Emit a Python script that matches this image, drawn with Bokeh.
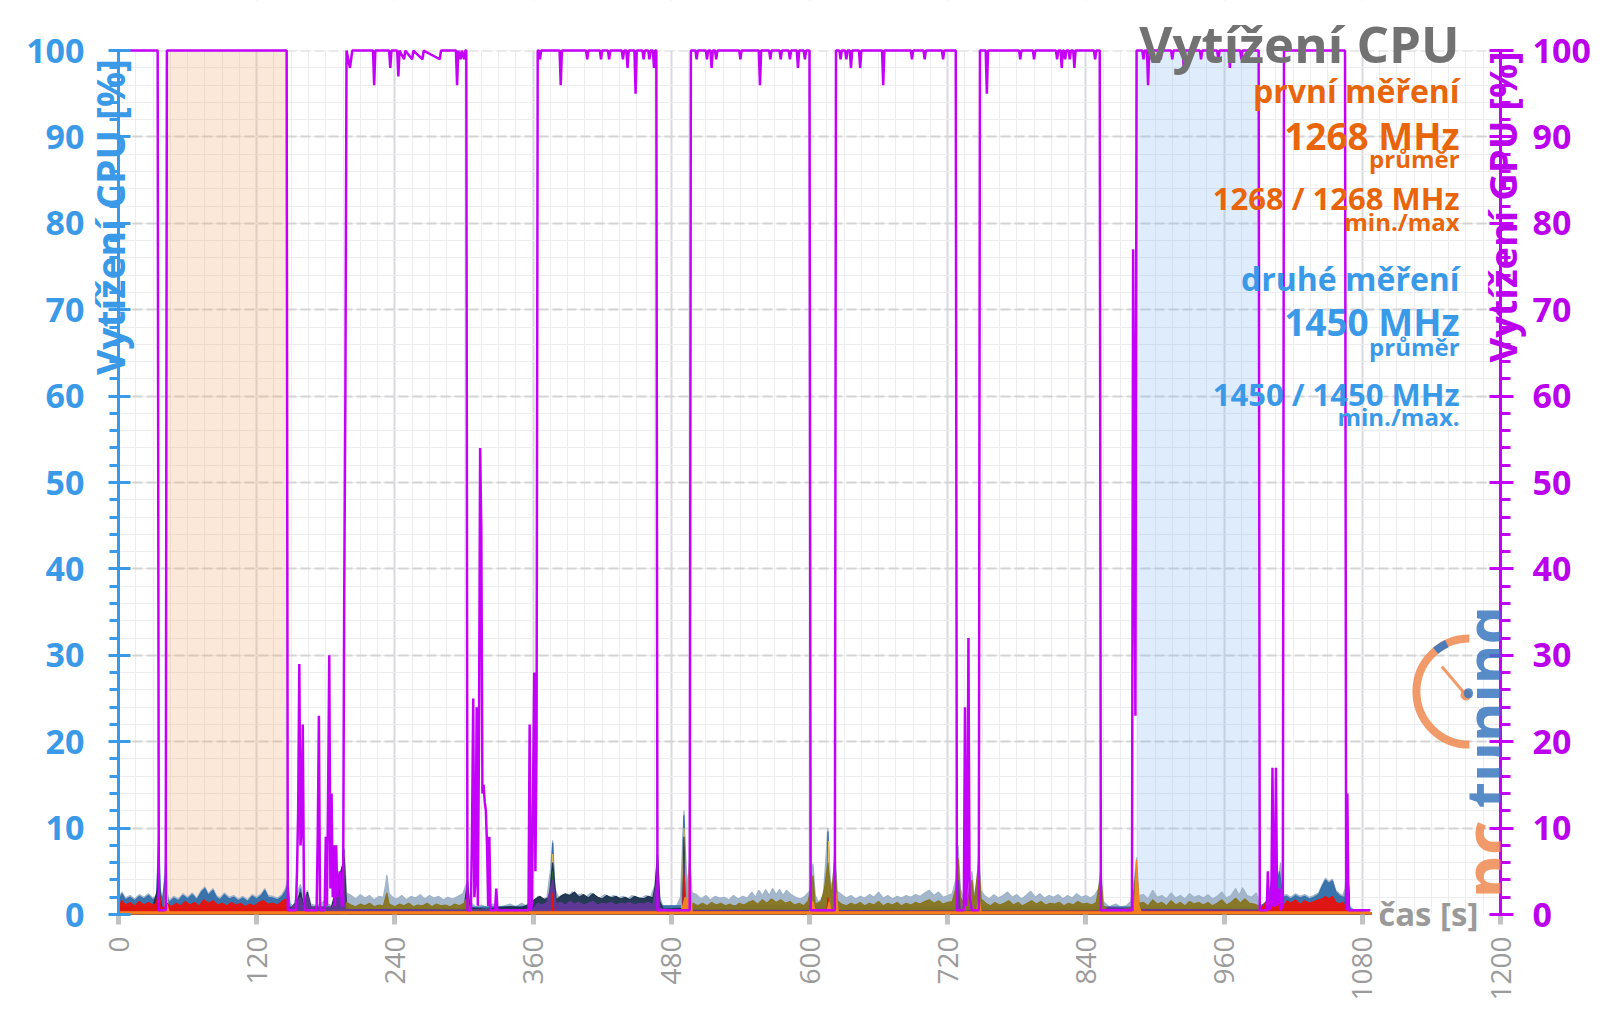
import math
from bokeh.plotting import figure
from bokeh.models import Range1d, LinearAxis, FixedTicker, SingleIntervalTicker, Label
from bokeh.embed import file_html
from bokeh.resources import INLINE

# ---------------- data ----------------
x_ticks = [0, 120, 240, 360, 480, 600, 720, 840, 960, 1080, 1200]
x_minor = list(range(0, 1201, 15))

band_start = [42, 884]
band_end = [147, 990]
band_colors = ["#f5a86a", "#7fb6ee"]

gpu_time = [
    0, 34, 35, 41, 42, 146, 147,
    154, 155, 156, 157, 158, 159, 160, 161, 162, 172, 173, 174, 175,
    179, 180, 181, 182, 183, 184, 185, 186, 187, 188, 189, 190, 192, 194, 195, 196, 197, 198,
    201, 203, 221, 222, 223, 235, 236, 237, 242, 243, 244, 248, 249, 255, 256, 264, 265,
    279, 280, 293, 294, 295, 297, 298, 300, 301, 302, 303,
    306, 307, 308, 309, 310, 311, 312, 313, 314, 315, 316, 317, 318, 319, 320, 321, 322, 323,
    327, 328, 329, 356, 357, 358, 359, 360, 361, 362, 363, 364,
    365, 366, 367, 383, 384, 385, 406, 407, 408, 418, 419, 420, 425, 426, 427, 437, 438, 439,
    441, 442, 443, 448, 449, 450, 455, 456, 457, 460, 461, 462, 464, 465, 466, 467, 468, 496, 497,
    501, 502, 503, 510, 511, 512, 514, 515, 516, 518, 519, 520, 539, 540, 541, 556, 557, 558,
    565, 566, 567, 574, 575, 576, 582, 583, 584, 589, 590, 591, 595, 596, 597, 600, 601, 622, 623,
    626, 627, 628, 631, 632, 633, 635, 636, 637, 643, 644, 645, 663, 664, 665, 688, 689, 690,
    699, 700, 701, 715, 716, 717, 727, 728, 734, 735, 736, 737, 738, 739, 741, 747, 748,
    753, 754, 755, 782, 783, 784, 794, 795, 796, 814, 815, 816, 818, 819, 820, 821, 822, 823,
    825, 826, 827, 829, 830, 831, 847, 848, 849, 852, 853, 880, 881, 883, 884,
    889, 890, 891, 893, 894, 895, 904, 905, 906, 914, 915, 916, 924, 925, 926, 939, 940, 941,
    954, 955, 956, 964, 965, 966, 974, 975, 976, 990, 991, 997, 998, 999, 1001, 1002, 1003,
    1004, 1005, 1006, 1008, 1009, 1011, 1012, 1065, 1066, 1067, 1068, 1087,
]
gpu_load = [
    100, 100, 0.5, 0.5, 100, 100, 0.5,
    0.5, 5, 12, 29, 8, 10, 22, 3, 0.5, 0.5, 9, 23, 0.5,
    0.5, 9, 1, 14, 30, 3, 14, 2, 8, 1, 8, 2, 5, 1, 1, 37, 60, 100,
    98, 100, 100, 96, 100, 100, 98, 100, 100, 97, 100, 99, 100, 99, 100, 99, 100,
    99, 100, 100, 96, 100, 99, 100, 99, 100, 100, 0.5,
    0.5, 10, 25, 2, 4, 24, 1, 20, 54, 45, 14, 15, 13, 12, 8, 1, 9, 0.5,
    0.5, 3, 0.5, 0.5, 22, 0.5, 1, 15, 28, 5, 20, 100,
    100, 99, 100, 100, 96, 100, 100, 99, 100, 100, 99, 100, 100, 99, 100, 100, 99, 100,
    100, 98, 100, 100, 95, 100, 100, 99, 100, 100, 99, 100, 100, 98, 100, 100, 0.5, 0.5, 100,
    100, 99, 100, 100, 99, 100, 100, 98, 100, 100, 99, 100, 100, 99, 100, 100, 96, 100,
    100, 99, 100, 100, 99, 100, 100, 99, 100, 100, 98, 100, 100, 99, 100, 100, 0.5, 0.5, 100,
    100, 99, 100, 100, 99, 100, 100, 98, 100, 100, 98, 100, 100, 96, 100, 100, 99, 100,
    100, 99, 100, 100, 99, 100, 100, 0.5, 0.5, 24, 1, 5, 32, 2, 0.5, 0.5, 100,
    100, 95, 100, 100, 99, 100, 100, 99, 100, 100, 99, 100, 100, 98, 100, 100, 99, 100,
    100, 99, 100, 100, 98, 100, 100, 99, 100, 100, 0.5, 0.5, 77, 23, 100,
    100, 99, 100, 100, 96, 100, 100, 99, 100, 100, 99, 100, 100, 98, 100, 100, 99, 100,
    100, 99, 100, 100, 98, 100, 100, 99, 100, 100, 0.5, 0.5, 5, 0.5, 1, 17, 1,
    1, 17, 1, 3, 0.5, 1, 100, 100, 0.5, 14, 0.5, 0.5,
]

# CPU thread loads (time in s, load in %)
light_t = [0, 3, 6, 10, 14, 18, 22, 26, 30, 33, 34, 35, 36, 37, 39, 41, 42, 44,
           48, 52, 56, 60, 64, 68, 72, 75, 78, 82, 85, 88, 92, 96, 100, 104, 108, 112, 116, 120,
           124, 127, 130, 134, 138, 142, 145, 147, 149,
           152, 155, 158, 161, 164, 167, 172, 178, 185, 190, 194, 196, 198,
           202, 206, 210, 214, 218, 222, 226, 230, 232, 233, 235, 238, 242, 246, 250, 254, 258,
           262, 266, 270, 274, 278, 282, 286, 290, 295, 299, 302, 303, 305,
           310, 315, 320, 325, 330, 335, 340, 345, 350, 354, 357, 360, 364, 368, 372, 375, 377, 379, 382,
           386, 390, 394, 398, 402, 406, 410, 414, 418, 422, 426, 430, 434, 438, 442, 446, 450, 454,
           458, 462, 466, 468, 470, 473,
           476, 480, 484, 488, 490, 491, 492, 494, 496, 498,
           502, 506, 510, 514, 518, 522, 526, 530, 534, 538, 542, 546, 550, 553, 556, 559, 562, 565,
           568, 571, 574, 577, 580, 584, 588, 592, 596, 600, 603, 605, 608, 612, 614, 616, 618, 620, 622, 624,
           628, 632, 636, 640, 644, 648, 652, 656, 660, 664, 668, 672, 676, 680, 684, 688, 692, 696,
           700, 704, 708, 712, 716, 720, 724, 727, 729, 731, 734, 738, 741, 743, 745, 747, 749,
           752, 756, 760, 764, 768, 772, 776, 780, 784, 788, 792, 796, 800, 804, 808, 812, 816, 820,
           824, 828, 832, 836, 840, 844, 848, 851, 853, 855,
           860, 866, 870, 875, 879, 882, 884, 886,
           890, 894, 898, 902, 906, 910, 914, 918, 922, 926, 930, 934, 938, 942, 946, 950, 954, 958,
           962, 966, 970, 973, 976, 980, 984, 988, 990,
           994, 998, 1001, 1003, 1005, 1007, 1009, 1011,
           1014, 1018, 1022, 1026, 1030, 1034, 1038, 1042, 1045, 1048, 1051, 1054, 1057, 1060, 1063,
           1065, 1067, 1069, 1072, 1078, 1084, 1088]
light_v = [1.8, 2.6, 1.9, 2.2, 1.8, 2.3, 2.0, 2.4, 1.9, 2.2, 6, 10.3, 4, 1.7, 2.2, 6.8, 2.7, 1.6,
           2.1, 1.8, 2.4, 2.0, 2.5, 1.9, 2.8, 3.2, 2.4, 3.0, 2.2, 1.9, 2.5, 2.0, 2.2, 1.8, 2.1, 1.7, 2.3, 2.0,
           2.4, 3.0, 2.2, 2.1, 1.9, 2.3, 3.0, 4.3, 1.2,
           1.0, 2.5, 3.5, 1.5, 2.8, 1.2, 1.0, 1.5, 1.0, 1.5, 4, 7.6, 2.5,
           2.2, 1.8, 2.3, 1.9, 2.2, 1.7, 2.1, 2.0, 3.5, 4.6, 2.4, 2.0, 1.8, 2.2, 1.7, 2.1, 1.9,
           2.3, 1.8, 2.2, 1.9, 2.1, 1.7, 2.0, 1.8, 2.1, 2.4, 3.5, 4.0, 1.5,
           0.9, 1.1, 0.8, 1.2, 0.9, 1.0, 1.2, 0.9, 1.3, 1.0, 1.5, 1.1, 2.1, 1.8, 2.0, 5, 8.6, 3, 2.0,
           2.3, 2.1, 2.6, 2.2, 2.4, 2.0, 2.5, 2.1, 1.9, 2.3, 2.0, 2.2, 1.9, 2.1, 1.8, 2.2, 2.0, 1.9,
           2.2, 2.0, 3.5, 7.2, 2.0, 0.9,
           0.8, 1.0, 0.8, 2, 9, 12, 8, 3, 6.6, 2.5,
           2.3, 1.8, 2.2, 1.7, 2.1, 1.9, 2.0, 1.7, 2.2, 1.8, 2.1, 1.9, 2.6, 2.0, 2.8, 2.2, 2.9, 2.2,
           3.0, 2.3, 2.9, 2.2, 2.8, 2.3, 2.0, 1.8, 2.1, 2.7, 5.9, 2.2, 1.4, 2.2, 6, 10, 4, 3, 7.6, 2.7,
           2.3, 1.9, 2.2, 1.8, 2.1, 1.9, 2.3, 2.0, 2.6, 1.9, 2.2, 1.8, 2.1, 1.9, 2.2, 2.0, 2.3, 2.1,
           2.5, 2.8, 2.2, 2.6, 2.0, 2.2, 2.4, 4, 8, 3, 1.7, 2.7, 5, 2.2, 3, 7.4, 2.7,
           2.2, 1.8, 2.3, 1.9, 2.2, 2.6, 2.0, 2.3, 1.8, 2.2, 2.7, 2.0, 2.4, 1.9, 2.2, 2.0, 2.3, 1.8,
           2.2, 1.9, 2.4, 2.0, 2.2, 1.9, 2.3, 3, 5.4, 1.5,
           0.9, 1.2, 0.9, 1.0, 1.5, 4, 6.6, 2.2,
           2.3, 1.8, 2.8, 2.0, 2.2, 1.8, 2.5, 1.9, 2.2, 1.8, 2.4, 2.0, 2.2, 1.9, 2.3, 1.8, 2.1, 2.6,
           1.9, 2.2, 3.0, 2.2, 3.1, 2.2, 2.0, 2.5, 1.4,
           1.0, 1.8, 4, 7.6, 3, 4, 6, 2.2,
           2.3, 2.0, 2.4, 2.1, 2.3, 2.0, 2.2, 2.5, 3.4, 4.2, 3.8, 4.1, 2.8, 2.4, 2.2,
           3, 7, 1.0, 0.6, 0.5, 0.3, 0.2]

blue_t = [0, 3, 6, 10, 14, 18, 22, 26, 30, 33, 34, 35, 36, 38, 41, 42, 44, 48, 52, 56, 60, 64, 68,
          72, 75, 78, 82, 85, 88, 92, 96, 100, 104, 108, 112, 116, 120, 124, 127, 130, 134, 138,
          142, 145, 147, 149, 156, 158, 160, 200, 375, 377, 379, 489, 491, 493, 615, 616, 618,
          990, 994, 998, 1001, 1003, 1005, 1008, 1011, 1014, 1018, 1022, 1026, 1030, 1034, 1038,
          1042, 1045, 1048, 1051, 1054, 1057, 1060, 1063, 1065, 1067, 1069, 1072, 1088]
blue_v = [1.5, 2.4, 1.7, 2.0, 1.6, 2.1, 1.8, 2.2, 1.7, 2.0, 5, 9.5, 3, 1.5, 5, 2.2, 1.4, 1.9, 1.6, 2.2, 1.8, 2.3, 1.7,
          2.6, 3.0, 2.2, 2.8, 2.0, 1.7, 2.3, 1.8, 2.0, 1.6, 1.9, 1.5, 2.1, 1.8, 2.2, 2.8, 2.0, 1.9, 1.7,
          2.1, 2.7, 3.5, 0.8, 1.0, 3.0, 0.8, 0.6, 1, 8.3, 1, 1, 11.5, 1, 1, 9.6, 1,
          0.8, 1.2, 1.6, 3.5, 7.2, 2.5, 5, 2.0, 2.1, 1.8, 2.2, 1.9, 2.1, 1.8, 2.0,
          2.3, 3.2, 4.0, 3.6, 3.9, 2.6, 2.2, 2.0, 2, 6, 0.8, 0.4, 0.2]

khaki_t = [0, 40, 41.7, 43, 375, 377, 379, 489, 491, 493, 615, 616.7, 618, 1002, 1003, 1004, 1088]
khaki_v = [0, 0, 6.5, 0, 0, 7, 0, 0, 10, 0, 0, 8.5, 0, 0, 6, 0, 0]

navy_t = [0, 30, 34, 35, 36, 38, 147, 150, 155, 158, 161, 164, 167, 175, 185, 196, 198, 200,
          300, 303, 305, 310, 320, 330, 340, 350, 357, 362, 366, 370, 374, 377, 380, 384, 388,
          392, 396, 400, 404, 408, 412, 416, 420, 424, 428, 432, 436, 440, 444, 448, 452, 456,
          460, 464, 466, 468, 470, 473, 490, 491, 492, 500, 850, 1065, 1067, 1069, 1088]
navy_v = [0.8, 0.9, 3, 8, 2, 0.6, 0.8, 0.8, 1.5, 2.6, 1.0, 2.6, 0.9, 0.8, 0.9, 6.5, 1.0, 0.6,
          0.6, 3.8, 0.8, 0.7, 0.6, 0.8, 0.9, 0.8, 1.2, 1.8, 2.1, 1.7, 2.0, 6, 1.7, 2.1, 2.4,
          2.2, 2.6, 2.0, 2.3, 1.9, 2.4, 2.0, 1.8, 2.2, 1.9, 2.1, 1.8, 2.0, 1.7, 2.1, 1.9, 1.8,
          2.1, 1.9, 3.3, 7.0, 1.5, 0.6, 0.7, 9, 0.7, 0.6, 0.6, 0.6, 6.5, 0.3, 0.2]

green_t = [0, 194, 195.6, 197, 200, 376, 377, 378, 490, 491, 492, 1088]
green_v = [0, 0, 7.5, 0.8, 0, 0, 5, 0, 0, 7, 0, 0]

olive_t = [0, 150, 196, 198, 202, 206, 210, 214, 218, 222, 226, 230, 233, 235, 240, 244, 248,
           252, 256, 260, 264, 268, 272, 276, 280, 284, 288, 292, 296, 300, 303, 305, 360, 497,
           499, 503, 507, 511, 515, 519, 523, 527, 531, 535, 539, 543, 547, 551, 555, 559, 563,
           567, 571, 575, 579, 583, 587, 591, 595, 599, 603, 605, 610, 613, 616, 619, 622, 624,
           628, 632, 636, 640, 644, 648, 652, 656, 660, 664, 668, 672, 676, 680, 684, 688, 692,
           696, 700, 704, 708, 712, 716, 720, 724, 727, 729, 731, 735, 738, 741, 743, 747, 749,
           753, 757, 761, 765, 769, 773, 777, 781, 785, 789, 793, 797, 801, 805, 809, 813, 817,
           821, 825, 829, 833, 837, 841, 845, 849, 853, 855, 860, 870, 880, 884, 886, 890, 894,
           898, 902, 906, 910, 914, 918, 922, 926, 930, 934, 938, 942, 946, 950, 954, 958, 962,
           966, 970, 974, 978, 982, 986, 990, 994, 1088]
olive_v = [0.4, 0.4, 0.6, 1.4, 1.1, 0.9, 1.2, 1.0, 1.3, 0.9, 1.1, 1.0, 2.5, 1.2, 0.9, 1.2, 1.0,
           1.3, 0.9, 1.1, 1.0, 1.3, 0.9, 1.2, 1.0, 1.1, 0.9, 1.2, 1.0, 1.3, 2, 0.5, 0.5, 0.6,
           1.3, 1.0, 1.3, 1.0, 1.4, 1.1, 1.3, 1.0, 1.2, 0.9, 1.3, 1.1, 1.4, 1.6, 1.2, 1.7, 1.3,
           1.8, 1.4, 1.7, 1.3, 1.5, 1.1, 1.3, 1.0, 1.6, 4.5, 1.2, 1.5, 3, 6, 2, 6.5, 1.6,
           1.2, 1.0, 1.3, 1.1, 1.4, 1.0, 1.3, 1.1, 1.5, 1.0, 1.3, 1.1, 1.4, 1.0, 1.3, 1.1, 1.4,
           1.2, 1.5, 1.7, 1.3, 1.6, 1.2, 1.4, 1.5, 3, 6.5, 2, 1.0, 2, 4, 1.5, 6, 1.8,
           1.3, 1.0, 1.4, 1.1, 1.3, 1.6, 1.1, 1.4, 1.0, 1.3, 1.6, 1.2, 1.5, 1.1, 1.3, 1.2, 1.4,
           1.0, 1.3, 1.1, 1.5, 1.2, 1.3, 1.1, 1.4, 4.5, 1.0, 0.6, 0.6, 0.8, 5.5, 1.3, 1.4, 1.0,
           1.7, 1.2, 1.4, 1.0, 1.6, 1.1, 1.4, 1.0, 1.5, 1.2, 1.4, 1.1, 1.4, 1.0, 1.3, 1.7, 1.1,
           1.4, 1.9, 1.3, 1.8, 1.3, 1.2, 1.0, 0.5, 0.2]

purple_t = [0, 146, 150, 155, 158, 161, 164, 167, 175, 185, 195, 197, 300, 360, 364, 368, 372,
            377, 380, 384, 388, 392, 396, 400, 404, 408, 412, 416, 420, 424, 428, 432, 436, 440,
            444, 448, 452, 456, 460, 464, 468, 470, 475, 490, 491, 492, 728, 729, 731, 853, 855,
            860, 870, 880, 1000, 1003, 1005, 1066, 1067, 1069, 1088]
purple_v = [0.5, 0.5, 0.7, 1.5, 2.0, 0.8, 2.3, 0.8, 0.9, 0.8, 3, 0.6, 0.5, 0.6, 1.3, 1.1, 1.4,
            4, 1.2, 1.4, 1.1, 1.5, 1.2, 1.4, 1.1, 1.3, 1.5, 1.1, 1.3, 1.2, 1.4, 1.1, 1.3, 1.2,
            1.4, 1.1, 1.3, 1.2, 1.4, 1.1, 4.5, 0.8, 0.5, 0.6, 6, 0.5, 0.4, 4, 0.4, 0.4, 0.4,
            0.8, 0.7, 0.6, 0.5, 4.5, 0.5, 0.4, 5, 0.2, 0.2]

red_t = [0, 3, 6, 10, 14, 18, 22, 26, 30, 33, 35, 37, 40, 42, 46, 50, 54, 58, 62, 66, 70, 74,
         78, 82, 86, 90, 94, 98, 102, 106, 110, 114, 118, 122, 126, 130, 134, 138, 142, 145,
         147, 149, 376, 377, 378, 490, 491, 492, 615, 616, 617, 990, 994, 998, 1001, 1003,
         1005, 1008, 1012, 1015, 1018, 1022, 1026, 1030, 1034, 1038, 1042, 1045, 1048, 1051,
         1054, 1057, 1060, 1063, 1065, 1068, 1088]
red_v = [1.0, 1.6, 1.1, 1.4, 1.0, 1.5, 1.1, 1.4, 1.1, 1.3, 3, 0.9, 0.8, 1.3, 0.9, 1.3, 1.0, 1.5,
         1.1, 1.4, 1.0, 1.7, 1.3, 1.6, 1.1, 1.3, 1.0, 1.4, 1.1, 1.3, 0.9, 1.2, 1.0, 1.4, 1.6,
         1.2, 1.3, 1.1, 1.5, 1.8, 1.5, 0.3, 0.3, 2.5, 0.3, 0.3, 4.5, 0.3, 0.3, 2, 0.3, 0.4,
         1.0, 1.7, 1.4, 2.5, 1.1, 1.4, 1.1, 1.6, 1.3, 1.7, 1.2, 1.6, 1.3, 1.5, 1.7, 1.8, 2.1,
         1.8, 2.1, 1.4, 1.2, 1.4, 1.0, 0.3, 0.2]

orange_t = [0, 40, 42, 44, 488, 490, 492, 494, 496, 498, 600, 603, 605, 615, 617, 619, 621,
            623, 625, 745, 747, 749, 882, 883, 884, 886, 888, 1085, 1088]
orange_v = [0.3, 0.3, 1.2, 0.3, 0.3, 1, 2, 1.5, 6.3, 0.3, 0.3, 1.5, 0.3, 0.3, 1.5, 0.3, 0.3,
            2.5, 0.3, 0.3, 2, 0.3, 0.3, 3, 6.3, 1, 0.3, 0.3, 0.2]

cpu_series = [
    (light_t, light_v, "#9fb3c8"),
    (blue_t, blue_v, "#3570aa"),
    (khaki_t, khaki_v, "#dcbd5c"),
    (navy_t, navy_v, "#1d334e"),
    (green_t, green_v, "#2e5b2e"),
    (olive_t, olive_v, "#877520"),
    (purple_t, purple_v, "#63389a"),
    (red_t, red_v, "#e8120c"),
    (orange_t, orange_v, "#f5841f"),
]

# ---------------- style ----------------
CPU_BLUE = "#3a9ae8"
GPU_MAG = "#c400f8"
GPU_LABEL = "#bb00ee"
ORANGE_TXT = "#e8650c"
GREY_TITLE = "#727272"
FONT = "Open Sans"
Y_TOP = 105.8   # frame reaches the top of the page so the title block is not clipped
EM = "\u2003"
EN = "\u2002"
THREE_PER_EM = "\u2004"

p = figure(width=1600, height=1009, x_range=Range1d(0, 1200), y_range=Range1d(0, Y_TOP),
           output_backend="svg", toolbar_location=None,
           min_border_left=118, min_border_right=100, min_border_top=0, min_border_bottom=95,
           background_fill_color="white", border_fill_color="white")
p.outline_line_color = None
p.extra_y_ranges = {"gpu": Range1d(0, Y_TOP)}

xt = FixedTicker(ticks=x_ticks, minor_ticks=x_minor)
xa = p.xaxis[0]
xa.ticker = xt
xa.bounds = (0, 1200)
xa.major_label_orientation = math.pi / 2
xa.axis_line_color = None
xa.major_tick_line_color = "#c2c2c2"
xa.major_tick_line_width = 5
xa.major_tick_in = 0
xa.major_tick_out = 10
xa.minor_tick_line_color = None
xa.major_label_text_font = FONT
xa.major_label_text_font_size = "28px"
xa.major_label_text_color = "#9b9b9b"
xa.major_label_standoff = 12
xa.axis_label = EM * 37 + EN + "čas [s]"
xa.axis_label_text_font = FONT
xa.axis_label_text_font_style = "bold"
xa.axis_label_text_font_size = "33px"
xa.axis_label_text_color = "#9a9a9a"
xa.axis_label_standoff = -113

yt = SingleIntervalTicker(interval=10, num_minor_ticks=5)
ya = p.yaxis[0]
ya.ticker = yt
ya.bounds = (0, 100)
ya.axis_line_color = CPU_BLUE
ya.axis_line_width = 3
ya.major_tick_line_color = CPU_BLUE
ya.major_tick_line_width = 3
ya.major_tick_in = 12
ya.major_tick_out = 10
ya.minor_tick_line_color = CPU_BLUE
ya.minor_tick_line_width = 3
ya.minor_tick_in = 0
ya.minor_tick_out = 9
ya.major_label_text_font = FONT
ya.major_label_text_font_style = "bold"
ya.major_label_text_font_size = "34px"
ya.major_label_text_color = CPU_BLUE
ya.major_label_standoff = 24
ya.axis_label = EM * 12 + THREE_PER_EM + "Vytížení CPU [%]"
ya.axis_label_text_font = FONT
ya.axis_label_text_font_style = "bold"
ya.axis_label_text_font_size = "39px"
ya.axis_label_text_color = CPU_BLUE
ya.axis_label_standoff = -113

ra = LinearAxis(y_range_name="gpu", ticker=SingleIntervalTicker(interval=10, num_minor_ticks=5))
ra.bounds = (0, 100)
ra.axis_line_color = GPU_MAG
ra.axis_line_width = 3
ra.major_tick_line_color = GPU_MAG
ra.major_tick_line_width = 3
ra.major_tick_in = 11
ra.major_tick_out = 13
ra.minor_tick_line_color = GPU_MAG
ra.minor_tick_line_width = 3
ra.minor_tick_in = 0
ra.minor_tick_out = 10
ra.major_label_text_font = FONT
ra.major_label_text_font_style = "bold"
ra.major_label_text_font_size = "34px"
ra.major_label_text_color = GPU_LABEL
ra.major_label_standoff = 19
ra.axis_label = EM * 2 + EN + "Vytížení GPU [%]"
ra.axis_label_text_font = FONT
ra.axis_label_text_font_style = "bold"
ra.axis_label_text_font_size = "38px"
ra.axis_label_text_color = GPU_LABEL
ra.axis_label_orientation = math.pi / 2
ra.axis_label_standoff = -92
p.add_layout(ra, "right")

p.xgrid.ticker = xt
p.xgrid.grid_line_color = "#d9d9e0"
p.xgrid.grid_line_width = 2
p.xgrid.minor_grid_line_color = "#ededf0"
p.xgrid.minor_grid_line_width = 1
p.ygrid.bounds = (0, 100)
p.ygrid.grid_line_color = "#d4d4d4"
p.ygrid.grid_line_width = 2
p.ygrid.grid_line_dash = "10 4"
p.ygrid.minor_grid_line_color = "#ededf0"
p.ygrid.minor_grid_line_width = 1

# blank strip above 100 % (only the title lives there)
p.quad(left=[0], right=[1200], bottom=[100], top=[Y_TOP], fill_color="white", line_color=None)

# shaded test bands
p.quad(left=band_start, right=band_end, bottom=0, top=100, fill_color=band_colors,
       fill_alpha=0.26, line_color=None)

# CPU thread areas
for t, v, c in cpu_series:
    p.varea(x=t, y1=0, y2=v, fill_color=c, fill_alpha=0.95)
    p.line(t, v, line_color=c, line_width=1.2)

# GPU load
p.line(gpu_time, gpu_load, y_range_name="gpu", line_color=GPU_MAG, line_width=2.5)

# logo (watermark)
p.arc(x=[1173], y=[25.8], radius=53, radius_units="screen", start_angle=math.pi / 2,
      end_angle=3 * math.pi / 2, line_color="#f08a50", line_width=8, line_alpha=0.85)
p.arc(x=[1173], y=[25.8], radius=53, radius_units="screen", start_angle=0.64 * math.pi,
      end_angle=0.72 * math.pi, line_color="#3b78c0", line_width=8, line_alpha=0.9)
p.segment(x0=[1170], y0=[25.4], x1=[1149], y1=[28.7], line_color="#f08a50", line_width=3,
          line_alpha=0.85)
p.scatter(x=[1170], y=[25.4], size=10, color="#f08a50", alpha=0.85)
p.add_layout(Label(x=1188, y=1.85, text="pc", angle=math.pi / 2, text_align="left",
                   text_baseline="middle", text_font="Noto Sans", text_font_style="bold",
                   text_font_size="68px", text_color="#f08a50", text_alpha=0.85))
p.add_layout(Label(x=1188, y=12.3, text="tuning", angle=math.pi / 2, text_align="left",
                   text_baseline="middle", text_font="Noto Sans", text_font_style="bold",
                   text_font_size="61px", text_color="#3b78c0", text_alpha=0.85))

# title block
texts = [
    ("Vytížení CPU", 100.9, "51px", GREY_TITLE),
    ("první měření", 95.4, "32px", ORANGE_TXT),
    ("1268 MHz", 90.2, "37px", ORANGE_TXT),
    ("průměr", 87.5, "24px", ORANGE_TXT),
    ("1268 / 1268 MHz", 82.9, "31px", ORANGE_TXT),
    ("min./max", 80.2, "24px", ORANGE_TXT),
    ("druhé měření", 73.6, "32px", CPU_BLUE),
    ("1450 MHz", 68.7, "37px", CPU_BLUE),
    ("průměr", 65.7, "24px", CPU_BLUE),
    ("1450 / 1450 MHz", 60.3, "31px", CPU_BLUE),
    ("min./max.", 57.6, "24px", CPU_BLUE),
]
for txt, yy, size, col in texts:
    p.add_layout(Label(x=1164.5, y=yy, text=txt, text_align="right", text_baseline="alphabetic",
                       text_font=FONT, text_font_style="bold", text_font_size=size,
                       text_color=col))

open("out.html", "w").write(file_html(p, INLINE))
